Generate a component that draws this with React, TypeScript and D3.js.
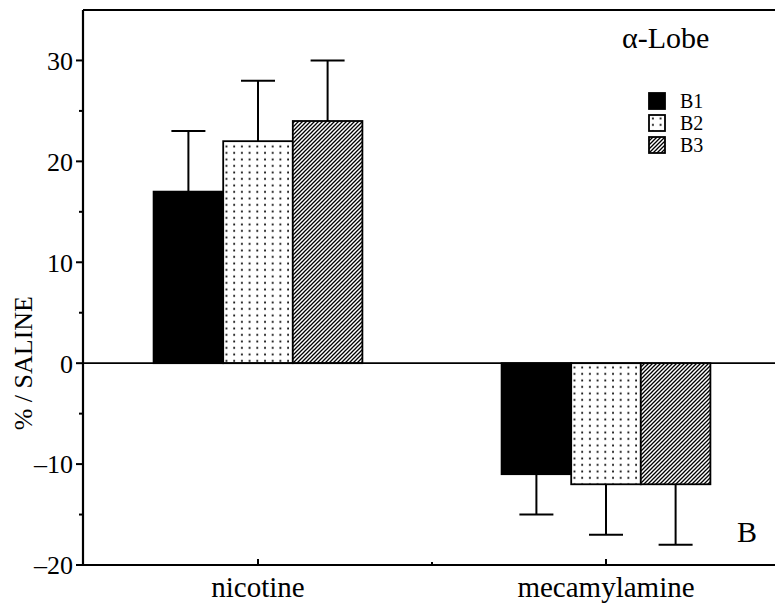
import * as d3 from "d3";

const categories = ["nicotine", "mecamylamine"];
const seriesNames = ["B1", "B2", "B3"];
// % / saline per category, one array per series
const b1Values = [17, -11];
const b2Values = [22, -12];
const b3Values = [24, -12];
const b1Errors = [6, 4];
const b2Errors = [6, 5];
const b3Errors = [6, 6];
const yTicks = [-20, -10, 0, 10, 20, 30];
const yMinorTicks = [-15, -5, 5, 15, 25];

const width = 775;
const height = 605;
const left = 83;
const top = 10;
const bottom = 565;
const right = 780;
const font = "'Liberation Serif', 'Times New Roman', serif";

const App = () => {
  const values = [b1Values, b2Values, b3Values];
  const errors = [b1Errors, b2Errors, b3Errors];
  const fills = ["#000", "url(#dots)", "url(#hatch)"];

  const y = d3.scaleLinear().domain([-20, 35]).range([bottom, top]);
  const x0 = d3.scaleBand().domain(categories).range([left + 1, right]);
  const x1 = d3
    .scaleBand()
    .domain(seriesNames)
    .range([x0.bandwidth() * 0.2, x0.bandwidth() * 0.8]);

  return (
    <svg
      width={width}
      height={height}
      style={{ position: "absolute", left: 0, top: 0, background: "#fff" }}
      fontFamily={font}
    >
      <defs>
        <pattern id="dots" width={7.7} height={6.5} patternUnits="userSpaceOnUse">
          <rect width={7.7} height={6.5} fill="#fff" />
          <rect x={3} y={2.5} width={1.8} height={1.8} fill="#000" />
        </pattern>
        <pattern id="hatch" width={4} height={4} patternUnits="userSpaceOnUse">
          <rect width={4} height={4} fill="#fff" />
          <path d="M-1,1 L1,-1 M0,4 L4,0 M3,5 L5,3" stroke="#000" strokeWidth={1.3} />
        </pattern>
      </defs>

      {/* bars */}
      {categories.map((c, ci) => (
        <g key={c} transform={`translate(${x0(c)},0)`}>
          {seriesNames.map((s, si) => {
            const v = values[si][ci];
            const e = errors[si][ci];
            const bx = x1(s) ?? 0;
            const bw = x1.bandwidth();
            const cx = bx + bw / 2;
            const end = v + Math.sign(v) * e;
            return (
              <g key={s}>
                <line x1={cx} x2={cx} y1={y(v)} y2={y(end)} stroke="#000" strokeWidth={2} />
                <line x1={cx - 17} x2={cx + 17} y1={y(end)} y2={y(end)} stroke="#000" strokeWidth={2} />
                <rect
                  x={bx}
                  y={y(Math.max(0, v))}
                  width={bw}
                  height={Math.abs(y(v) - y(0))}
                  fill={fills[si]}
                  stroke="#000"
                  strokeWidth={1.8}
                />
              </g>
            );
          })}
        </g>
      ))}

      {/* frame and zero line */}
      <line x1={left} x2={right} y1={top} y2={top} stroke="#000" strokeWidth={2} />
      <line x1={left} x2={right} y1={bottom} y2={bottom} stroke="#000" strokeWidth={2.2} />
      <line x1={left} x2={left} y1={top} y2={bottom + 1} stroke="#000" strokeWidth={2.2} />
      <line x1={left} x2={right} y1={y(0)} y2={y(0)} stroke="#000" strokeWidth={1.8} />

      {/* y ticks */}
      {yTicks.map((t) => (
        <g key={t} transform={`translate(${left},${y(t)})`}>
          <line x1={-7} x2={0} stroke="#000" strokeWidth={2} />
          <text x={-10} dy="0.36em" textAnchor="end" fontSize={26}>
            {t < 0 ? `\u2013${Math.abs(t)}` : t}
          </text>
        </g>
      ))}
      {yMinorTicks.map((t) => (
        <line key={t} x1={left - 4} x2={left} y1={y(t)} y2={y(t)} stroke="#000" strokeWidth={2} />
      ))}

      {/* x ticks (inside) */}
      {categories.map((c) => {
        const cx = (x0(c) ?? 0) + x0.bandwidth() / 2;
        return (
          <g key={c}>
            <line x1={cx} x2={cx} y1={bottom} y2={bottom - 6} stroke="#000" strokeWidth={2} />
            <text x={cx} y={bottom + 32} textAnchor="middle" fontSize={29}>
              {c}
            </text>
          </g>
        );
      })}
      {categories.slice(1).map((c) => (
        <line key={c} x1={x0(c)} x2={x0(c)} y1={bottom} y2={bottom - 3} stroke="#000" strokeWidth={2} />
      ))}

      {/* y label */}
      <text
        transform={`translate(32,${y(0)}) rotate(-90)`}
        textAnchor="middle"
        fontSize={26}
      >
        % / SALINE
      </text>

      {/* title, legend and panel letter */}
      <text x={622} y={48} fontSize={30}>
        α-Lobe
      </text>
      {seriesNames.map((s, i) => (
        <g key={s} transform={`translate(649,${93 + i * 22})`}>
          <rect width={16} height={16} fill={fills[i]} stroke="#000" strokeWidth={1.8} />
          <text x={31} y={15} fontSize={20}>
            {s}
          </text>
        </g>
      ))}
      <text x={737} y={542} fontSize={30}>
        B
      </text>
    </svg>
  );
};

export default App;
